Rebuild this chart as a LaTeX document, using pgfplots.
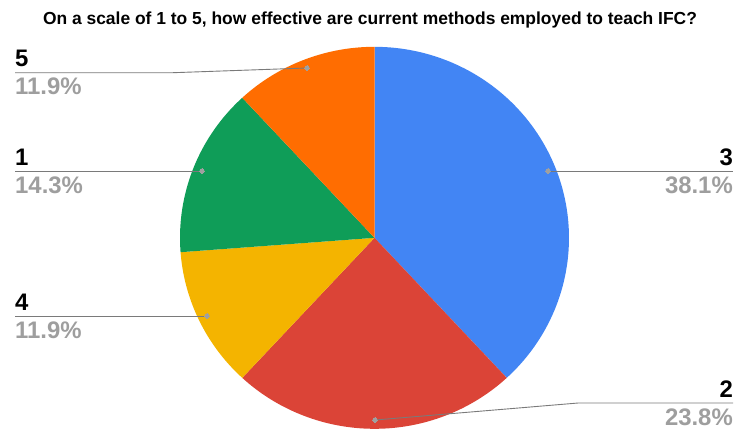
\documentclass[border=0pt]{standalone}
\usepackage{pgfplots}
\pgfplotsset{compat=1.18}
\usepackage{fontspec}
\setmainfont{Liberation Sans}
\definecolor{cThree}{HTML}{4285F4}
\definecolor{cTwo}{HTML}{DB4437}
\definecolor{cFour}{HTML}{F4B400}
\definecolor{cOne}{HTML}{0F9D58}
\definecolor{cFive}{HTML}{FF6D01}
\definecolor{valgray}{HTML}{9E9E9E}
\definecolor{linegray}{HTML}{7A7A7A}
\definecolor{dotgray}{HTML}{A0A0A0}
% shares (percent), clockwise from top
\def\vThree{38.1}
\def\vTwo{23.8}
\def\vFour{11.9}
\def\vOne{14.3}
\def\vFive{11.9}
\pgfmathsetmacro{\aA}{0}
\pgfmathsetmacro{\aB}{\aA+3.6*\vThree}
\pgfmathsetmacro{\aC}{\aB+3.6*\vTwo}
\pgfmathsetmacro{\aD}{\aC+3.6*\vFour}
\pgfmathsetmacro{\aE}{\aD+3.6*\vOne}
\pgfmathsetmacro{\aF}{\aE+3.6*\vFive}
\def\cx{374.5}
\def\cy{237.8}
\def\rx{194.5}
\def\ry{191}
\newcommand{\slice}[3]{%
  \addplot[fill=#1, draw=none, domain=#2:#3, samples=90, variable=\t]
    ({\cx+\rx*sin(\t)}, {\cy-\ry*cos(\t)}) -- (\cx,\cy) -- cycle;}
\begin{document}
\begin{tikzpicture}
\begin{axis}[width=740bp, height=430bp, scale only axis,
  xmin=0, xmax=740, ymin=0, ymax=430, y dir=reverse,
  hide axis, clip=false]
\addplot[draw=none] coordinates {(0,0) (740,430)};
\slice{cThree}{\aA}{\aB}
\slice{cTwo}{\aB}{\aC}
\slice{cFour}{\aC}{\aD}
\slice{cOne}{\aD}{\aE}
\slice{cFive}{\aE}{\aF}
% leader lines
\addplot[linegray, line width=0.9pt] coordinates {(15,72.7) (173,72.7) (307,68)};
\addplot[linegray, line width=0.9pt] coordinates {(15,171) (202,171)};
\addplot[linegray, line width=0.9pt] coordinates {(15,316) (207,316)};
\addplot[linegray, line width=0.9pt] coordinates {(548,171) (733,171)};
\addplot[linegray, line width=0.9pt] coordinates {(375,420) (578,403) (733,403)};
\addplot[dotgray, only marks, mark=*, mark size=2.4bp, mark options={fill=dotgray, draw=dotgray, line width=0pt}]
  coordinates {(307,68) (202,171) (207,316) (548,171) (375,420)};
% title
\node[anchor=base, inner sep=0] at (axis cs:370,24)
  {\fontsize{17.5}{20}\selectfont\bfseries On a scale of 1 to 5, how effective are current methods employed to teach IFC?};
% labels
\tikzset{lab/.style={inner sep=0, font=\fontsize{24}{28}\selectfont\bfseries}}
\node[lab, anchor=base west] at (axis cs:15,66.7) {5};
\node[lab, anchor=base west, text=valgray] at (axis cs:15,94.7) {11.9\%};
\node[lab, anchor=base west] at (axis cs:15,165) {1};
\node[lab, anchor=base west, text=valgray] at (axis cs:15,193) {14.3\%};
\node[lab, anchor=base west] at (axis cs:15,310) {4};
\node[lab, anchor=base west, text=valgray] at (axis cs:15,338) {11.9\%};
\node[lab, anchor=base east] at (axis cs:733,165) {3};
\node[lab, anchor=base east, text=valgray] at (axis cs:733,193) {38.1\%};
\node[lab, anchor=base east] at (axis cs:733,397) {2};
\node[lab, anchor=base east, text=valgray] at (axis cs:733,425) {23.8\%};
\end{axis}
\end{tikzpicture}
\end{document}
